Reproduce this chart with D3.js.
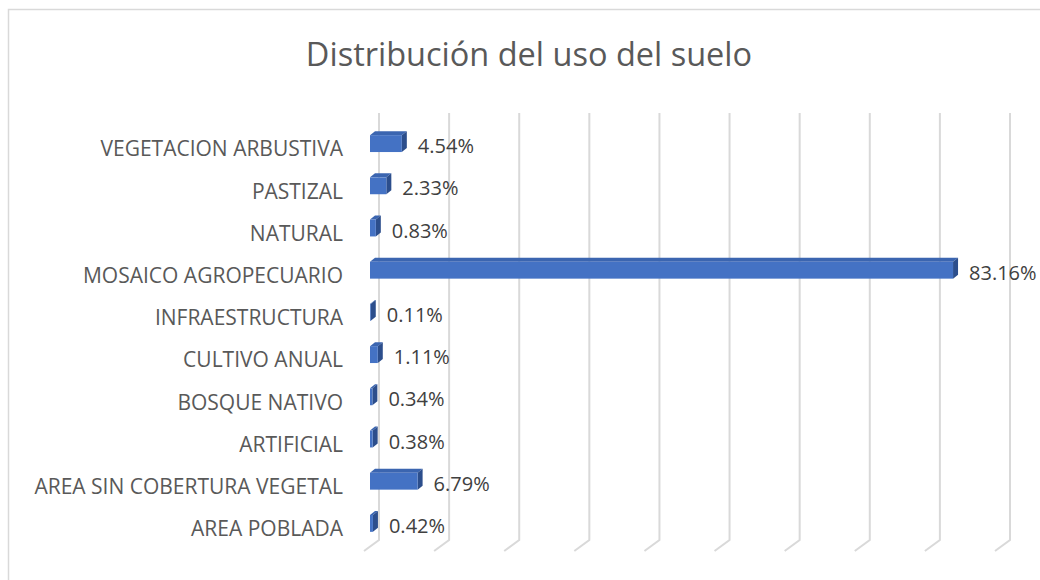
<!DOCTYPE html>
<html>
<head>
<meta charset="utf-8">
<script src="https://cdn.jsdelivr.net/npm/d3@7"></script>
<style>
  body { margin: 0; background: #fff; }
  svg text { font-family: "Open Sans", sans-serif; }
</style>
</head>
<body>
<div id="chart"></div>
<script>
// land use categories, top to bottom as they appear
var categories = ["VEGETACION ARBUSTIVA", "PASTIZAL", "NATURAL", "MOSAICO AGROPECUARIO",
  "INFRAESTRUCTURA", "CULTIVO ANUAL", "BOSQUE NATIVO", "ARTIFICIAL",
  "AREA SIN COBERTURA VEGETAL", "AREA POBLADA"];
var values = [0.0454, 0.0233, 0.0083, 0.8316, 0.0011, 0.0111, 0.0034, 0.0038, 0.0679, 0.0042];
var gridTicks = [0, 0.1, 0.2, 0.3, 0.4, 0.5, 0.6, 0.7, 0.8, 0.9];
var title = "Distribución del uso del suelo";

var width = 1040, height = 580;

var svg = d3.select("#chart")
  .append("svg")
  .attr("width", width)
  .attr("height", height);

// chart area border (only top and left fall inside the picture)
svg.append("rect")
  .attr("x", 8.5).attr("y", 9.5)
  .attr("width", 1100).attr("height", 700)
  .attr("fill", "none")
  .attr("stroke", "#d9d9d9")
  .attr("stroke-width", 1.5);

var x = d3.scaleLinear()
  .domain([0, 0.9])
  .range([370, 370 + 631]);

var y = d3.scaleBand()
  .domain(categories)
  .range([128, 550])
  .paddingInner(0.6)
  .paddingOuter(0.3);

// 3d depth of the plot (back wall is shifted right and up)
var wallDx = 9, floorDx = -15, floorDy = 11;
var gridTop = 113, gridBottom = 540;

var grid = svg.append("g").attr("class", "grid");
gridTicks.forEach(function (t) {
  var gx = x(t) + wallDx;
  grid.append("path")
    .attr("d", "M" + gx + "," + gridTop + "L" + gx + "," + gridBottom +
      "L" + (gx + floorDx) + "," + (gridBottom + floorDy))
    .attr("fill", "none")
    .attr("stroke", "#d9d9d9")
    .attr("stroke-width", 2);
});

// title
svg.append("text")
  .attr("x", 529)
  .attr("y", 66)
  .attr("text-anchor", "middle")
  .attr("fill", "#595959")
  .style("font-size", "32.5px")
  .text(title);

// category labels
svg.selectAll(".cat")
  .data(categories)
  .enter()
  .append("text")
  .attr("class", "cat")
  .attr("x", 343)
  .attr("y", function (d) { return y(d) + y.bandwidth() / 2; })
  .attr("dy", "0.35em")
  .attr("text-anchor", "end")
  .attr("fill", "#595959")
  .style("font-size", "21px")
  .text(function (d) { return d; });

// 3d bars: front face, top face and right side
var dx = 5, dy = -4, shift = -5.5;
var bars = svg.selectAll(".bar")
  .data(values)
  .enter()
  .append("g")
  .attr("class", "bar");

bars.append("path")
  .attr("d", function (d, i) {
    var x0 = x(0), x1 = x(d), y0 = y(categories[i]) + shift;
    return "M" + x0 + "," + y0 + "L" + (x0 + dx) + "," + (y0 + dy) +
      "L" + (x1 + dx) + "," + (y0 + dy) + "L" + x1 + "," + y0 + "Z";
  })
  .attr("fill", "#3b65b0");

bars.append("path")
  .attr("d", function (d, i) {
    var x1 = x(d), y0 = y(categories[i]) + shift, y1 = y0 + y.bandwidth();
    return "M" + x1 + "," + y0 + "L" + (x1 + dx) + "," + (y0 + dy) +
      "L" + (x1 + dx) + "," + (y1 + dy) + "L" + x1 + "," + y1 + "Z";
  })
  .attr("fill", "#2c4e8c");

bars.append("rect")
  .attr("x", x(0))
  .attr("y", function (d, i) { return y(categories[i]) + shift; })
  .attr("width", function (d) { return x(d) - x(0); })
  .attr("height", y.bandwidth())
  .attr("fill", "#4472c4");

// value labels
svg.selectAll(".val")
  .data(values)
  .enter()
  .append("text")
  .attr("class", "val")
  .attr("x", function (d) { return x(d) + 16; })
  .attr("y", function (d, i) { return y(categories[i]) + y.bandwidth() / 2 - 3; })
  .attr("dy", "0.35em")
  .attr("fill", "#404040")
  .style("font-size", "20px")
  .text(function (d) { return d3.format(".2%")(d); });
</script>
</body>
</html>
